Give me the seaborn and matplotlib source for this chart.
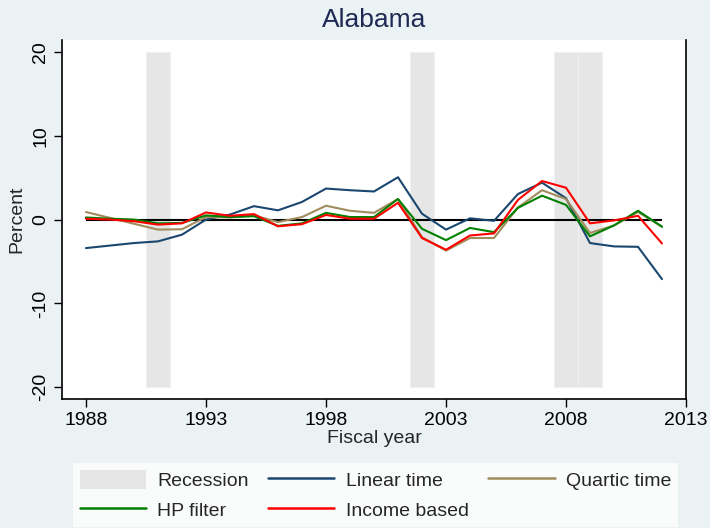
import numpy as np
import pandas as pd
import matplotlib
matplotlib.use('Agg')
import matplotlib.pyplot as plt
import seaborn as sns
from matplotlib.patches import Patch
from matplotlib.lines import Line2D

years = list(range(1988, 2013))

linear_time = [-3.4, -3.1, -2.8, -2.6, -1.8, 0.0, 0.6, 1.6, 1.1, 2.1, 3.7, 3.5, 3.35,
               5.05, 0.7, -1.2, 0.15, -0.15, 3.05, 4.4, 2.55, -2.8, -3.2, -3.25, -7.1]
quartic_time = [0.9, 0.2, -0.5, -1.2, -1.15, 0.3, 0.25, 0.5, -0.3, 0.3, 1.65, 1.05, 0.8,
                2.45, -2.1, -3.7, -2.2, -2.2, 1.45, 3.5, 2.45, -1.6, -0.7, 0.9, -0.85]
hp_filter = [0.25, 0.1, 0.0, -0.45, -0.4, 0.5, 0.3, 0.4, -0.75, -0.45, 0.8, 0.3, 0.3,
             2.45, -1.1, -2.45, -1.0, -1.5, 1.4, 2.85, 1.75, -2.0, -0.7, 1.05, -0.85]
income_based = [0.1, 0.0, -0.2, -0.6, -0.45, 0.85, 0.45, 0.65, -0.8, -0.55, 0.55, 0.1, 0.1,
                2.0, -2.2, -3.6, -1.9, -1.65, 2.35, 4.6, 3.8, -0.45, -0.1, 0.45, -2.85]

rec_start = [1990.5, 2001.5, 2007.5, 2008.5]
rec_end = [1991.5, 2002.5, 2008.5, 2009.5]
rec_low, rec_high = -20, 20

series_names = ['Linear time', 'Quartic time', 'HP filter', 'Income based']
series_colors = ['#1a476f', '#a08c5c', '#008000', '#ff0000']
bg = '#eaf2f3'

df = pd.DataFrame({'Fiscal year': years, 'Linear time': linear_time,
                   'Quartic time': quartic_time, 'HP filter': hp_filter,
                   'Income based': income_based})
long = df.melt(id_vars='Fiscal year', var_name='series', value_name='Percent')

sns.set_style('white')
plt.rcParams['font.family'] = ['Liberation Sans', 'DejaVu Sans']
plt.rcParams['axes.unicode_minus'] = False

fig = plt.figure(figsize=(7.1, 5.28), dpi=100, facecolor=bg)
ax = fig.add_axes([0.0873, 0.2443, 0.8789, 0.6797])
ax.set_facecolor('white')

ax.bar(rec_start, rec_high - rec_low, bottom=rec_low,
       width=np.array(rec_end) - np.array(rec_start), align='edge',
       color='#e6e6e6', edgecolor='#eef2f2', linewidth=0.8, zorder=1)
ax.hlines(0, years[0], years[-1], color='black', lw=1.5, zorder=2)

sns.lineplot(data=long, x='Fiscal year', y='Percent', hue='series',
             hue_order=series_names, palette=series_colors, lw=1.5,
             legend=False, ax=ax, zorder=3)

ax.set_xlim(1987, 2013)
ax.set_ylim(-21.4, 21.4)
ax.set_xticks(range(1988, 2014, 5))
ax.set_yticks([-20, -10, 0, 10, 20])
ax.tick_params(axis='both', direction='out', length=6, width=1, labelsize=14,
               left=True, bottom=True, colors='black', pad=3)
plt.setp(ax.get_yticklabels(), rotation=90, va='center')

for side in ['left', 'bottom', 'right']:
    ax.spines[side].set_visible(True)
    ax.spines[side].set_color('black')
    ax.spines[side].set_linewidth(1.2)
ax.spines['top'].set_visible(False)

ax.set_xlabel('Fiscal year', fontsize=14, labelpad=1)
ax.set_ylabel('Percent', fontsize=14, labelpad=5)
fig.text(0.527, 0.963, 'Alabama', ha='center', va='center', fontsize=19, color='#1e2a55')

handles = [Patch(facecolor='#e6e6e6', edgecolor='none', label='Recession')]
handles += [Line2D([], [], color=c, lw=1.8, label=n) for n, c in zip(series_names, series_colors)]
# row-major order for a 3-column legend
order = [0, 3, 1, 4, 2]
leg = fig.legend([handles[i] for i in order], [handles[i].get_label() for i in order],
                 ncol=3, loc='center', bbox_to_anchor=(0.529, 0.0625), fontsize=14,
                 frameon=True, fancybox=False, edgecolor='white', facecolor='white',
                 handlelength=3.4, handleheight=1.1, columnspacing=1.0, handletextpad=0.6,
                 labelspacing=0.5, borderpad=0.35, borderaxespad=0)
leg.get_frame().set_linewidth(0)

fig.savefig('out.png', dpi=100, facecolor=bg)
